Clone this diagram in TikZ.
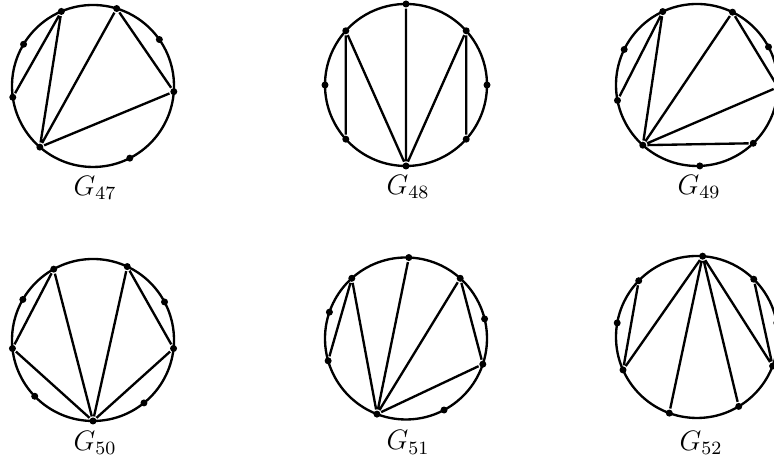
\documentclass[tikz,border=0pt]{standalone}
\usepackage{amsmath}
\usepackage{tikz}

\begin{document}
\begin{tikzpicture}[x=0.015cm,y=0.015cm,line width=1pt,
  dot/.style={circle,fill,inner sep=0pt,minimum size=0.105cm},
  glabel/.style={font=\large}]
  \useasboundingbox (0,0) rectangle (774,472);

  \begin{scope}[shift={(93,386)}]
    \draw (0,0) circle (81);
    \foreach \n/\ang in {1/113,2/73,3/35,4/-4,5/-63,6/229,7/188,8/149}
      \node[dot] (a\n) at (\ang:81) {};
    \draw (a1)--(a7) (a1)--(a6) (a2)--(a6) (a2)--(a4) (a4)--(a6);
    \node[glabel] (g47) at (2,-102) {$G_{47}$};
  \end{scope}

  \begin{scope}[shift={(406,387)}]
    \draw (0,0) circle (81);
    \foreach \n/\ang in {1/90,2/42,3/0,4/-42,5/-90,6/222,7/180,8/138}
      \node[dot] (b\n) at (\ang:81) {};
    \draw (b1)--(b5) (b8)--(b6) (b8)--(b5) (b2)--(b5) (b2)--(b4);
    \node[glabel] (g48) at (2,-102) {$G_{48}$};
  \end{scope}

  \begin{scope}[shift={(697,387)}]
    \draw (0,0) circle (81);
    \foreach \n/\ang in {1/115,2/64,3/28,4/-1.5,5/-46,6/-88,7/228,8/191,9/154}
      \node[dot] (c\n) at (\ang:81) {};
    \draw (c1)--(c8) (c1)--(c7) (c2)--(c7) (c2)--(c4) (c4)--(c7) (c7)--(c5);
    \node[glabel] (g49) at (2,-102) {$G_{49}$};
  \end{scope}

  \begin{scope}[shift={(93,132)}]
    \draw (0,0) circle (81);
    \foreach \n/\ang in {1/119,2/65,3/28,4/-6,5/-51,6/-90,7/224,8/186,9/150}
      \node[dot] (d\n) at (\ang:81) {};
    \draw (d1)--(d8) (d1)--(d6) (d2)--(d6) (d2)--(d4) (d4)--(d6) (d8)--(d6);
    \node[glabel] (g50) at (2,-103) {$G_{50}$};
  \end{scope}

  \begin{scope}[shift={(406,133.5)}]
    \draw (0,0) circle (81);
    \foreach \n/\ang in {1/88,2/48,3/14,4/-18.5,5/-62,6/249,7/196,8/161,9/132}
      \node[dot] (e\n) at (\ang:81) {};
    \draw (e9)--(e7) (e9)--(e6) (e1)--(e6) (e2)--(e6) (e2)--(e4) (e4)--(e6);
    \node[glabel] (g51) at (2,-104) {$G_{51}$};
  \end{scope}

  \begin{scope}[shift={(697,135)}]
    \draw (0,0) circle (81);
    \foreach \n/\ang in {1/86,2/45.5,3/10,4/-21,5/-59,6/250,7/204,8/170,9/136}
      \node[dot] (f\n) at (\ang:81) {};
    \draw (f9)--(f7) (f1)--(f7) (f1)--(f6) (f1)--(f5) (f1)--(f4) (f2)--(f4);
    \node[glabel] (g52) at (4,-106) {$G_{52}$};
  \end{scope}
\end{tikzpicture}
\end{document}
